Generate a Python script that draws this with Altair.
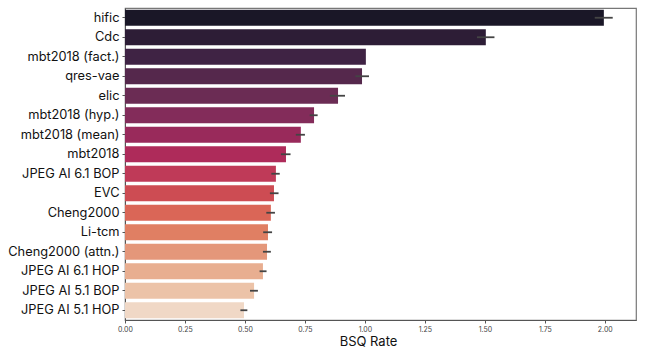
import altair as alt
import pandas as pd

methods = [
    "hific", "Cdc", "mbt2018 (fact.)", "qres-vae", "elic", "mbt2018 (hyp.)",
    "mbt2018 (mean)", "mbt2018", "JPEG AI 6.1 BOP", "EVC", "Cheng2000",
    "Li-tcm", "Cheng2000 (attn.)", "JPEG AI 6.1 HOP", "JPEG AI 5.1 BOP",
    "JPEG AI 5.1 HOP",
]
bsq_rate = [1.996, 1.504, 1.004, 0.988, 0.888, 0.788, 0.733, 0.671,
            0.629, 0.621, 0.608, 0.596, 0.592, 0.575, 0.538, 0.496]
ci_low = [1.958, 1.467, 1.004, 0.960, 0.854, 0.770, 0.712, 0.650,
          0.610, 0.604, 0.589, 0.576, 0.575, 0.561, 0.521, 0.481]
ci_high = [2.033, 1.540, 1.004, 1.017, 0.917, 0.803, 0.750, 0.690,
           0.645, 0.640, 0.625, 0.613, 0.608, 0.590, 0.554, 0.510]
bar_colors = [
    "#1a1727", "#2d1d36", "#3f2344", "#55284c", "#6b2c54", "#832c5a",
    "#992a5b", "#ae2b5a", "#bf3a58", "#cd4c53", "#da6657", "#e07f63",
    "#e4977a", "#e8ae90", "#ecc3a8", "#f0d8c6",
]

df = pd.DataFrame({
    "method": methods,
    "rate": bsq_rate,
    "lo": ci_low,
    "hi": ci_high,
})

font = "Inter"
y_enc = alt.Y(
    "method:N", sort=methods, title=None,
    scale=alt.Scale(paddingInner=0.18, paddingOuter=0.09),
    axis=alt.Axis(labelFontSize=12.8, labelColor="#111", labelFont=font,
                  domainColor="#555", tickColor="#555", tickSize=3,
                  labelPadding=3, labelLimit=200),
)
x_scale = alt.Scale(domain=[0, 2.13], nice=False)

bars = alt.Chart(df).mark_bar().encode(
    y=y_enc,
    x=alt.X("rate:Q", scale=x_scale, title="BSQ Rate",
            axis=alt.Axis(values=[0, 0.25, 0.5, 0.75, 1.0, 1.25, 1.5, 1.75, 2.0],
                          format=".2f", labelFontSize=7, labelColor="#444",
                          labelFont=font, labelFlush=False, labelPadding=2,
                          titleFont=font, titleFontSize=13,
                          titleFontWeight="normal", titleColor="#111",
                          titleAlign="center", titleX=243, titlePadding=3,
                          domainColor="#555", tickColor="#555", tickSize=3,
                          grid=False)),
    color=alt.Color("method:N", sort=methods, legend=None,
                    scale=alt.Scale(domain=methods, range=bar_colors)),
)

errs = alt.Chart(df).mark_rule(color="#444", strokeWidth=1.8).encode(
    y=alt.Y("method:N", sort=methods),
    x=alt.X("lo:Q", scale=x_scale),
    x2="hi:Q",
)

chart = (bars + errs).properties(
    width=511, height=312,
    autosize=alt.AutoSizeParams(type="none"),
    padding={"left": 125, "top": 8, "right": 9, "bottom": 28},
).configure_view(stroke="#777", strokeWidth=1.2).configure_axis(grid=False)

chart.save("out.html", embed_options={"renderer": "svg", "actions": False})
